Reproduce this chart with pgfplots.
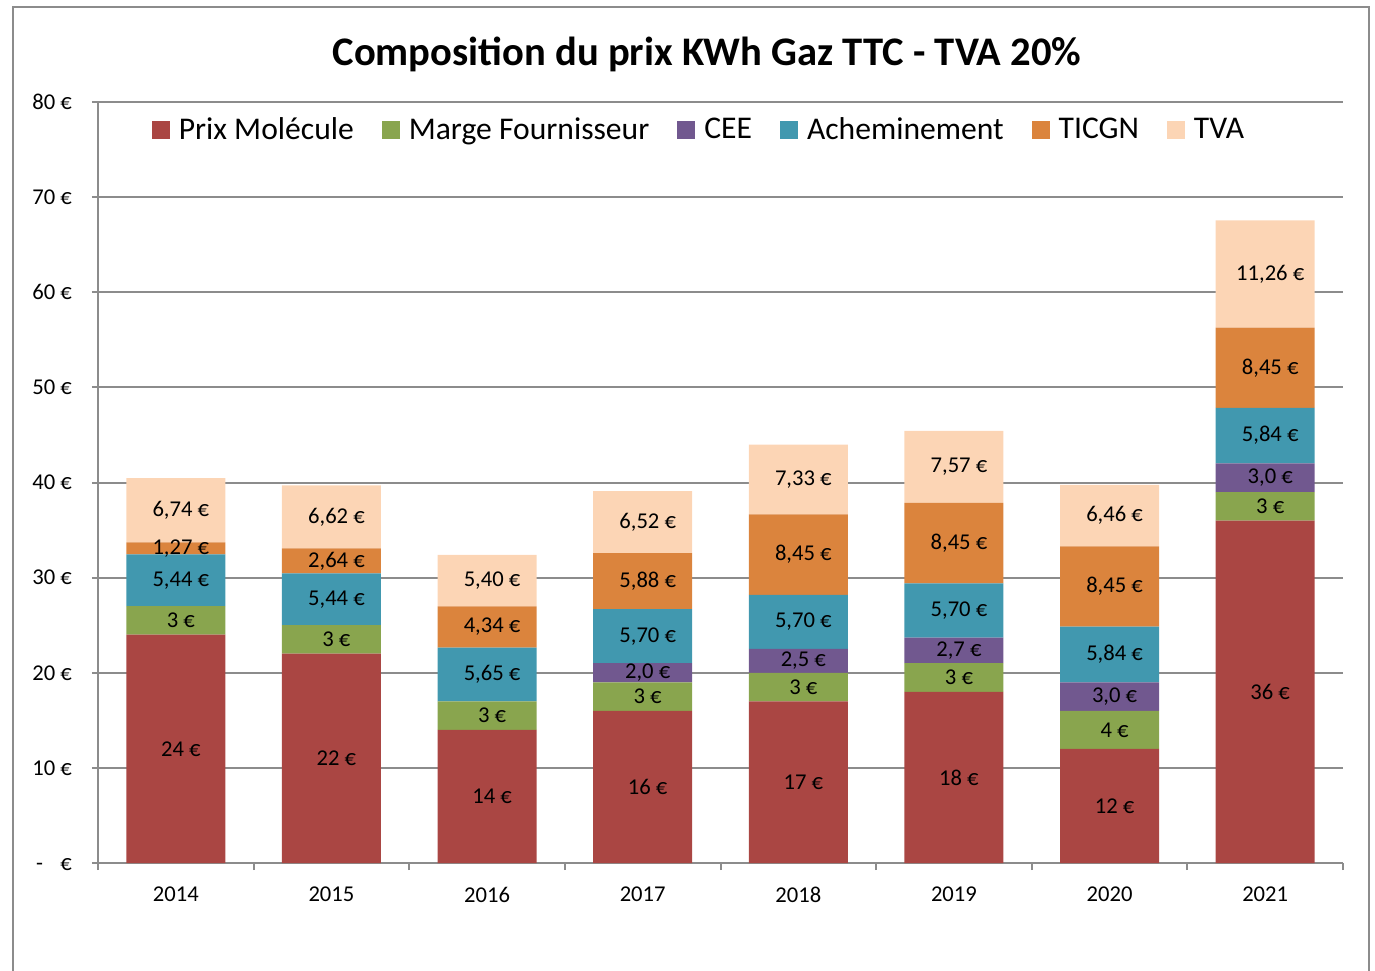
\documentclass[border=0pt]{standalone}
\usepackage{pgfplots}
\pgfplotsset{compat=1.18}
\usepackage{pgfplotstable}
\usepackage{fontspec}
\setmainfont{Carlito}
\definecolor{cPM}{HTML}{AA4643}
\definecolor{cMF}{HTML}{89A54E}
\definecolor{cCEE}{HTML}{71588F}
\definecolor{cACH}{HTML}{4198AF}
\definecolor{cTIC}{HTML}{DB843D}
\definecolor{cTVA}{HTML}{FCD5B5}
\definecolor{gridgray}{HTML}{8C8C8C}

\pgfplotstableread{
x pm pml mf mfl cee ceel ach achl tic ticl tva tval
0 24 {24 €} 3 {3 €} 0 {} 5.44 {5,44 €} 1.27 {1,27 €} 6.74 {6,74 €}
1 22 {22 €} 3 {3 €} 0 {} 5.44 {5,44 €} 2.64 {2,64 €} 6.62 {6,62 €}
2 14 {14 €} 3 {3 €} 0 {} 5.65 {5,65 €} 4.34 {4,34 €} 5.40 {5,40 €}
3 16 {16 €} 3 {3 €} 2.0 {2,0 €} 5.70 {5,70 €} 5.88 {5,88 €} 6.52 {6,52 €}
4 17 {17 €} 3 {3 €} 2.5 {2,5 €} 5.70 {5,70 €} 8.45 {8,45 €} 7.33 {7,33 €}
5 18 {18 €} 3 {3 €} 2.7 {2,7 €} 5.70 {5,70 €} 8.45 {8,45 €} 7.57 {7,57 €}
6 12 {12 €} 4 {4 €} 3.0 {3,0 €} 5.84 {5,84 €} 8.45 {8,45 €} 6.46 {6,46 €}
7 36 {36 €} 3 {3 €} 3.0 {3,0 €} 5.84 {5,84 €} 8.45 {8,45 €} 11.26 {11,26 €}
}\data

\begin{document}
\begin{tikzpicture}
\useasboundingbox (-49pt,-53.5pt) rectangle (638.5pt,431.5pt);
\begin{axis}[
  at={(0pt,0pt)}, anchor=south west,
  scale only axis, width=622.5pt, height=380.5pt,
  ybar stacked, bar width=0.636,
  xmin=-0.5, xmax=7.5, ymin=0, ymax=80,
  axis lines=left, axis line style={-, draw=gridgray, line width=1pt},
  xtick={0,...,7}, xticklabels={2014,2015,2016,2017,2018,2019,2020,2021},
  minor xtick={-0.5,0.5,...,7.5},
  major x tick style={draw=none},
  minor x tick style={gridgray, line width=1pt},
  minor tick length=3.5pt,
  ytick={0,10,...,80},
  yticklabels={\rlap{\,-}\phantom{00}~€,10~€,20~€,30~€,40~€,50~€,60~€,70~€,80~€},
  ytick style={gridgray, line width=1pt},
  major tick length=3pt,
  tick align=outside,
  ymajorgrids, grid style={gridgray, line width=1pt},
  tick label style={font=\fontsize{11.3}{13}\selectfont, black},
  xticklabel style={yshift=-5.5pt},
  yticklabel style={xshift=-6.5pt},
  point meta=explicit symbolic,
  nodes near coords={\pgfplotspointmeta},
  every node near coord/.append style={anchor=center, xshift=2.5pt, font=\fontsize{11.3}{13}\selectfont, black},
  legend columns=6,
  legend style={at={(0.4835,0.963)}, anchor=center, draw=none, fill=none,
    font=\fontsize{15.8}{18}\selectfont,
    /tikz/every even column/.append style={column sep=12pt}},
  legend image code/.code={\path[#1,draw=none] (0pt,-4.5pt) rectangle (9pt,4.5pt); \path (11.5pt,0pt);},
]
\addplot[fill=cPM, draw=none] table[x=x, y=pm, meta=pml] {\data};
\addplot[fill=cMF, draw=none] table[x=x, y=mf, meta=mfl] {\data};
\addplot[fill=cCEE, draw=none] table[x=x, y=cee, meta=ceel] {\data};
\addplot[fill=cACH, draw=none] table[x=x, y=ach, meta=achl] {\data};
\addplot[fill=cTIC, draw=none] table[x=x, y=tic, meta=ticl] {\data};
\addplot[fill=cTVA, draw=none] table[x=x, y=tva, meta=tval] {\data};
\legend{Prix Molécule, Marge Fournisseur, CEE, Acheminement, TICGN, TVA}
\end{axis}
\node[font=\bfseries\fontsize{20.3}{24}\selectfont, anchor=base] at (304.5pt,398.5pt) {Composition du prix KWh Gaz TTC - TVA 20\%};
\draw[gridgray, line width=1pt] (-42.5pt,-60pt) -- (-42.5pt,428pt) -- (635.5pt,428pt) -- (635.5pt,-60pt);
\end{tikzpicture}
\end{document}
